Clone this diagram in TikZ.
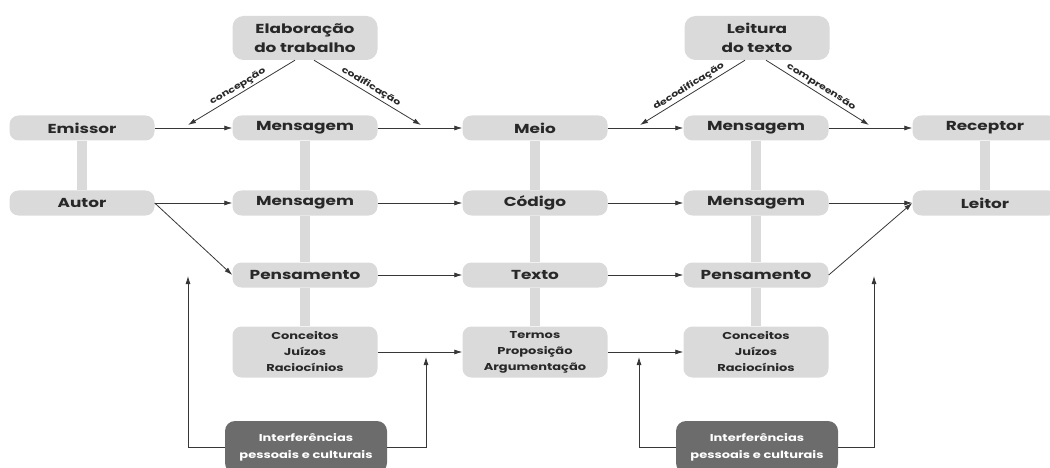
\documentclass[tikz,border=0pt]{standalone}
\usepackage{fontspec}
\setmainfont{Poppins}[FakeStretch=1.3]
\usetikzlibrary{arrows.meta}
\definecolor{boxgray}{RGB}{218,218,218}
\definecolor{darkbox}{RGB}{108,108,108}
\definecolor{txt}{RGB}{40,40,40}
\definecolor{arr}{RGB}{55,55,55}
\tikzset{
  box/.style={fill=boxgray, rounded corners=9pt, minimum width=145pt, minimum height=25pt, inner sep=0pt, text=txt, font=\fontsize{13}{14}\selectfont\bfseries, align=center},
  tallbox/.style={box, minimum height=51pt, font=\fontsize{10}{16}\selectfont\bfseries},
  topbox/.style={box, rounded corners=11pt, minimum width=145pt, minimum height=44pt, font=\fontsize{13}{19}\selectfont\bfseries},
  darkboxs/.style={fill=darkbox, rounded corners=10pt, minimum width=162pt, minimum height=52pt, inner sep=0pt, text=white, font=\fontsize{10}{17}\selectfont\bfseries, align=center},
  bar/.style={draw=boxgray, line width=10pt},
  flow/.style={draw=arr, line width=0.8pt, -{Latex[length=8pt,width=5pt]}},
  lab/.style={font=\fontsize{8.5}{9}\selectfont\bfseries, text=txt, sloped, above, inner sep=2pt}
}
\begin{document}
\begin{tikzpicture}[x=1pt,y=-1pt]
\useasboundingbox (0,0) rectangle (1050,468);
% top boxes
\node[topbox] (elab) at (305,38) {Elaboração\\do trabalho};
\node[topbox] (leit) at (757,38) {Leitura\\do texto};
% row 1
\node[box] (emissor) at (82,128) {Emissor};
\node[box] (msg1) at (305,128) {Mensagem};
\node[box] (meio) at (535,128) {Meio};
\node[box] (msg1r) at (756,128) {Mensagem};
\node[box] (receptor) at (985,128) {Receptor};
% row 2
\node[box] (autor) at (82,203) {Autor};
\node[box] (msg2) at (305,203) {Mensagem};
\node[box] (codigo) at (535,203) {Código};
\node[box] (msg2r) at (756,203) {Mensagem};
\node[box] (leitor) at (985,203) {Leitor};
% row 3
\node[box] (pens) at (305,275) {Pensamento};
\node[box] (texto) at (535,275) {Texto};
\node[box] (pensr) at (756,275) {Pensamento};
% row 4
\node[tallbox] (conc) at (305,352) {Conceitos\\Juízos\\Raciocínios};
\node[tallbox] (termos) at (535,352) {Termos\\Proposição\\Argumentação};
\node[tallbox] (concr) at (756,352) {Conceitos\\Juízos\\Raciocínios};
% interference boxes
\node[darkboxs] (intl) at (306,447) {Interferências\\pessoais e culturais};
\node[darkboxs] (intr) at (757,447) {Interferências\\pessoais e culturais};
% vertical bars
\draw[bar] (emissor.south) -- (autor.north);
\draw[bar] (receptor.south) -- (leitor.north);
\draw[bar] (msg1.south) -- (msg2.north);
\draw[bar] (msg2.south) -- (pens.north);
\draw[bar] (pens.south) -- (conc.north);
\draw[bar] (meio.south) -- (codigo.north);
\draw[bar] (codigo.south) -- (texto.north);
\draw[bar] (texto.south) -- (termos.north);
\draw[bar] (msg1r.south) -- (msg2r.north);
\draw[bar] (msg2r.south) -- (pensr.north);
\draw[bar] (pensr.south) -- (concr.north);
% horizontal flows
\draw[flow] (emissor) -- (msg1);
\draw[flow] (msg1) -- (meio);
\draw[flow] (meio) -- (msg1r);
\draw[flow] (msg1r) -- (receptor);
\draw[flow] (autor) -- (msg2);
\draw[flow] (msg2) -- (codigo);
\draw[flow] (codigo) -- (msg2r);
\draw[flow] (msg2r) -- (leitor);
\draw[flow] (pens) -- (texto);
\draw[flow] (texto) -- (pensr);
\draw[flow] (conc) -- (termos);
\draw[flow] (termos) -- (concr);
% diagonals
\draw[flow] (autor.east) -- (pens.west);
\draw[flow] (pensr.east) -- (leitor.west);
% top arrows
\coordinate (c1) at (188,125);
\coordinate (c2) at (421,125);
\coordinate (c3) at (640,125);
\coordinate (c4) at (869,125);
\draw[flow] (elab.south -| 295,0) -- node[lab,pos=0.5] {concepção} (c1);
\draw[flow] (elab.south -| 314,0) -- node[lab,pos=0.5] {codificação} (c2);
\draw[flow] (leit.south -| 745,0) -- node[lab,pos=0.5] {decodificação} (c3);
\draw[flow] (leit.south -| 766,0) -- node[lab,pos=0.5] {compreensão} (c4);
% feedback arrows
\coordinate (f1) at (188,276);
\coordinate (f2) at (426,357);
\coordinate (f3) at (639,357);
\coordinate (f4) at (874,276);
\draw[flow] (intl.west) -| (f1);
\draw[flow] (intl.east) -| (f2);
\draw[flow] (intr.west) -| (f3);
\draw[flow] (intr.east) -| (f4);
\end{tikzpicture}
\end{document}
